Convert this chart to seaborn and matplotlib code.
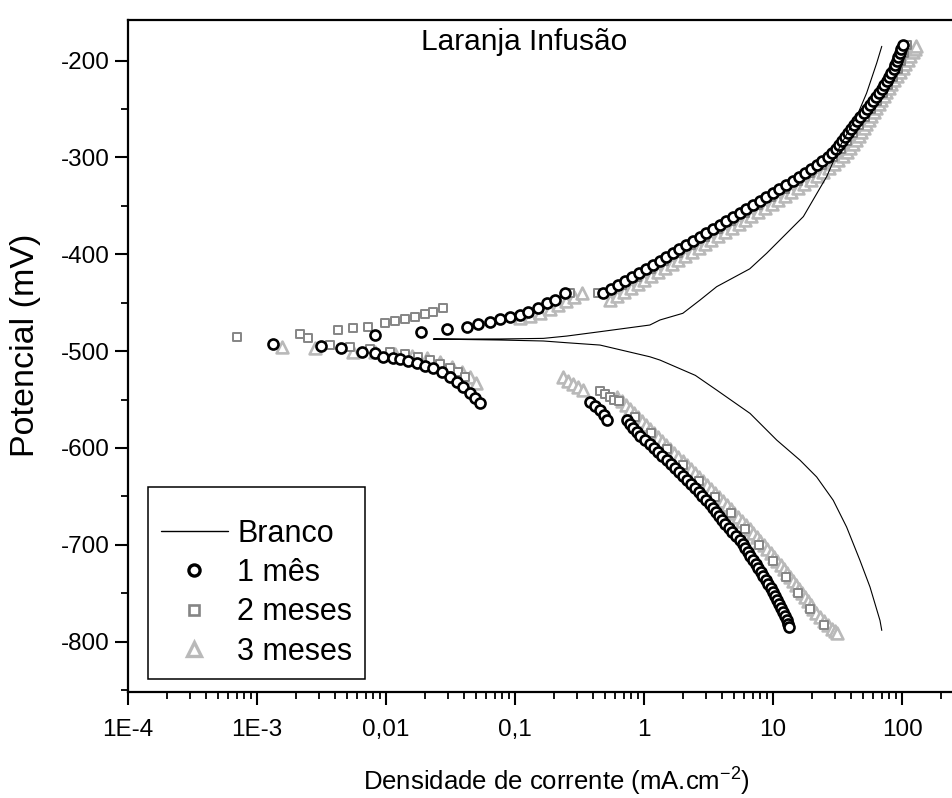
import matplotlib
matplotlib.use("Agg")
import matplotlib.pyplot as plt
from matplotlib.lines import Line2D
from matplotlib.ticker import LogLocator, NullFormatter, MultipleLocator, FixedLocator
import seaborn as sns

sns.set_theme(style="ticks")
plt.rcParams["font.family"] = ["Liberation Sans", "DejaVu Sans"]
plt.rcParams["mathtext.fontset"] = "custom"
plt.rcParams["mathtext.rm"] = "Liberation Sans"
plt.rcParams["mathtext.it"] = "Liberation Sans:italic"
plt.rcParams["text.color"] = "black"
plt.rcParams["axes.labelcolor"] = "black"

# ---------------------------------------------------------------
# Polarization data: current density (mA/cm2) and potential (mV)
# ---------------------------------------------------------------

# Branco (reference curve), traced from the cathodic end to the anodic end
branco_i = [69.7, 67.5, 56.5, 47.2, 37.2, 29.3, 21.8, 16.2, 10.7, 6.64, 3.66, 2.5,
            1.33, 1.11, 0.456, 0.252, 0.166, 0.0766, 0.0233,
            0.0766, 0.166, 0.252, 0.456, 1.11, 1.33, 2.0, 2.72, 3.66, 6.6, 8.93,
            17.2, 26.1, 33.0, 44.6, 53.2, 63.7, 69.7]
branco_e = [-788.4, -778.1, -743.6, -716.0, -681.6, -654.0, -629.9, -612.6, -591.9,
            -564.3, -540.2, -525.0, -509.2, -505.8, -493.7, -491.3, -489.5, -488.5,
            -487.5,
            -487.4, -486.8, -484.4, -479.9, -473.0, -467.8, -460.9, -447.2, -433.4,
            -415.0, -398.9, -361.0, -319.6, -288.6, -257.6, -233.4, -202.4, -185.2]

# 1 mes: low-current cathodic, low-current anodic, middle cluster,
# main cathodic branch, main anodic branch
mes1_i = [1.336e-3, 3.12e-3, 4.46e-3, 6.49e-3, 8.22e-3, 9.53e-3, 0.0114, 0.01285,
          0.0149, 0.0173, 0.02006, 0.02326, 0.02702, 0.03135, 0.03532, 0.03974,
          0.04477, 0.04898, 0.05353,
          8.22e-3, 0.01858, 0.0295, 0.0423, 0.052, 0.064, 0.0765, 0.0914, 0.1093,
          0.1268, 0.1517, 0.1762, 0.2042, 0.2443,
          0.381, 0.417, 0.456, 0.490, 0.517,
          0.735, 0.777, 0.822, 0.875, 0.931, 1.023, 1.123, 1.201, 1.284, 1.388,
          1.500, 1.616, 1.740, 1.868, 2.006, 2.154, 2.313, 2.484, 2.667, 2.840,
          3.025, 3.220, 3.428, 3.614, 3.811, 4.022, 4.244, 4.538, 4.853, 5.189,
          5.549, 5.827, 6.119, 6.373, 6.637, 6.969, 7.318, 7.683, 8.067, 8.437,
          8.824, 9.187, 9.565, 9.960, 10.37, 10.74, 11.13, 11.54, 11.96, 12.34,
          12.74, 13.05, 13.37,
          0.4836, 0.5509, 0.6276, 0.7111, 0.8057, 0.9136, 1.036, 1.169, 1.319,
          1.485, 1.672, 1.883, 2.121, 2.390, 2.693, 3.035, 3.421, 3.852, 4.337,
          4.888, 5.510, 6.198, 6.973, 7.859, 8.857, 9.973, 11.23, 12.65, 14.24,
          15.92, 17.80, 19.71, 21.82, 24.16, 26.74, 28.79, 31.00, 32.63, 34.34,
          36.12, 38.00, 40.17, 42.46, 44.95, 47.59, 50.39, 53.36, 56.48, 59.79,
          62.98, 66.33, 69.36, 72.53, 75.84, 79.31, 82.70, 86.24, 88.58, 90.98,
          93.45, 95.98, 98.60, 101.3]
mes1_e = [-492.7, -494.7, -497.1, -500.6, -502.3, -505.8, -507.4, -508.2, -509.7,
          -511.8, -514.9, -517.8, -521.3, -526.5, -531.6, -536.8, -543.6, -548.8,
          -553.3,
          -483.3, -479.9, -477.5, -474.8, -472.3, -469.6, -467.1, -465.0, -462.7,
          -459.3, -455.7, -450.6, -447.2, -440.2,
          -552.6, -556.8, -560.9, -566.1, -571.3,
          -571.3, -575.4, -579.5, -583.7, -587.8, -592.0, -596.1, -600.2, -604.3,
          -608.5, -612.6, -616.8, -620.9, -625.1, -629.2, -633.3, -637.4, -641.6,
          -645.7, -649.9, -654.0, -658.1, -662.2, -666.4, -670.5, -674.7, -678.8,
          -683.0, -687.1, -691.2, -695.3, -699.5, -703.6, -707.8, -711.9, -716.0,
          -720.1, -724.3, -728.4, -732.6, -736.7, -740.9, -745.0, -749.1, -753.2,
          -757.4, -761.5, -765.7, -769.8, -773.9, -778.0, -781.7, -785.3,
          -439.9, -435.8, -431.6, -427.5, -423.4, -419.3, -415.1, -411.0, -406.8,
          -402.7, -398.6, -394.5, -390.3, -386.2, -382.0, -377.9, -373.8, -369.7,
          -365.5, -361.4, -357.2, -353.1, -348.9, -344.8, -340.6, -336.5, -332.4,
          -328.3, -324.1, -320.0, -315.8, -311.7, -307.6, -303.5, -299.3, -295.2,
          -291.0, -286.9, -282.7, -278.6, -274.5, -270.4, -266.2, -262.1, -257.9,
          -253.8, -249.6, -245.5, -241.4, -237.3, -233.1, -229.0, -224.8, -220.7,
          -216.5, -212.4, -208.3, -204.2, -200.0, -195.9, -191.7, -187.6, -183.5]

# 2 meses
mes2_i = [6.96e-4, 2.15e-3, 2.50e-3, 4.27e-3, 5.58e-3, 7.29e-3, 9.82e-3, 0.01175,
          0.01403, 0.01679, 0.02006, 0.02326, 0.02782,
          3.68e-3, 5.26e-3, 7.52e-3, 0.01074, 0.01403, 0.0177, 0.02193, 0.02622,
          0.03135, 0.03614, 0.04094,
          0.267, 0.456, 0.4986, 0.545, 0.5855,
          0.6397, 0.8514, 1.133, 1.508, 2.005, 2.669, 3.551, 4.725, 6.067, 7.788,
          10.0, 12.61, 15.62, 19.36, 24.85,
          0.440, 0.675, 0.882, 1.133, 1.429, 1.835, 2.314, 2.971, 3.746, 4.725,
          6.067, 7.650, 9.650, 12.39, 15.62, 19.36, 23.98, 29.18, 33.66, 37.47,
          41.71, 46.42, 51.67, 57.51, 64.01, 71.25, 77.90, 85.17, 93.11, 98.22,
          103.6, 109.3]
mes2_e = [-485.1, -482.6, -486.8, -478.2, -476.4, -474.8, -471.2, -468.9, -467.1,
          -465.0, -461.6, -459.3, -455.7,
          -493.7, -495.7, -497.8, -500.9, -503.0, -506.1, -509.2, -513.4, -517.5,
          -521.6, -526.8,
          -439.9, -541.3, -544.4, -547.5, -550.6,
          -551.6, -568.2, -584.7, -601.2, -617.8, -634.3, -650.9, -667.4, -684.0,
          -700.5, -717.1, -733.6, -750.2, -766.7, -783.2,
          -439.9, -431.6, -423.4, -415.1, -406.8, -398.6, -390.3, -382.0, -373.8,
          -365.5, -357.2, -348.9, -340.6, -332.4, -324.1, -315.8, -307.6, -299.3,
          -291.0, -282.7, -274.5, -266.2, -257.9, -249.6, -241.4, -233.1, -224.8,
          -216.5, -208.3, -200.0, -191.7, -183.5]

# 3 meses
mes3_i = [1.55e-3, 2.82e-3, 5.58e-3, 8.22e-3, 0.01175, 0.0159, 0.0208, 0.02622,
          0.0325, 0.0388, 0.0448, 0.0499,
          0.1093, 0.1306, 0.1563, 0.1868, 0.2154, 0.2483, 0.2864, 0.3305,
          0.2356, 0.2575, 0.2816, 0.3079, 0.3366,
          0.6176, 0.6693, 0.7254, 0.7791, 0.8367, 0.8986, 0.9650, 1.0364, 1.113,
          1.1955, 1.284, 1.379, 1.481, 1.5904, 1.708, 1.8505, 2.005, 2.154, 2.314,
          2.4852, 2.669, 2.8662, 3.078, 3.306, 3.551, 3.8138, 4.096, 4.3993, 4.725,
          5.0297, 5.354, 5.7503, 6.176, 6.5742, 6.998, 7.4499, 7.931, 8.4416,
          8.985, 9.564, 10.18, 10.834, 11.53, 12.168, 12.84, 13.546, 14.29,
          15.078, 15.91, 16.781, 17.70, 18.673, 19.70, 20.60, 21.54, 23.136,
          24.85, 26.692, 28.67, 29.975, 31.34,
          0.545, 0.6177, 0.700, 0.7928, 0.898, 1.0087, 1.133, 1.2839, 1.455,
          1.634, 1.835, 2.0793, 2.356, 2.6457, 2.971, 3.3361, 3.746, 4.2452,
          4.811, 5.4026, 6.067, 6.8127, 7.650, 8.6682, 9.822, 11.031, 12.39,
          13.912, 15.62, 17.542, 19.70, 21.933, 24.42, 26.936, 29.71, 32.191,
          34.88, 37.137, 39.54, 41.71, 44.00, 46.009, 48.11, 50.305, 52.60, 55.0,
          57.51, 60.131, 62.87, 65.745, 68.75, 71.884, 75.16, 78.587, 82.17,
          86.691, 91.46, 96.491, 101.8, 106.44, 111.3, 116.38, 121.7, 125.0, 128.4]
mes3_e = [-495.4, -497.1, -500.6, -500.9, -503.0, -505.1, -507.1, -511.3, -516.4,
          -521.6, -526.8, -533.0,
          -465.8, -463.7, -460.6, -456.5, -452.3, -448.2, -444.1, -439.9,
          -526.8, -530.9, -534.0, -537.1, -540.2,
          -547.5, -551.6, -555.7, -559.9, -564.0, -568.2, -572.3, -576.5, -580.6,
          -584.7, -588.8, -593.0, -597.1, -601.3, -605.4, -609.6, -613.7, -617.8,
          -621.9, -626.1, -630.2, -634.4, -638.5, -642.6, -646.7, -650.9, -655.0,
          -659.2, -663.3, -667.5, -671.6, -675.7, -679.8, -684.0, -688.1, -692.3,
          -696.4, -700.6, -704.7, -708.8, -712.9, -717.1, -721.2, -725.4, -729.5,
          -733.6, -737.7, -741.9, -746.0, -750.2, -754.3, -758.5, -762.6, -766.7,
          -770.8, -775.0, -779.1, -783.3, -787.4, -789.5, -791.5,
          -447.2, -443.1, -438.9, -434.8, -430.6, -426.5, -422.3, -418.2, -414.1,
          -410.0, -405.8, -401.7, -397.5, -393.4, -389.3, -385.2, -381.0, -376.9,
          -372.7, -368.6, -364.4, -360.3, -356.2, -352.1, -347.9, -343.8, -339.6,
          -335.5, -331.3, -327.2, -323.1, -319.0, -314.8, -310.7, -306.5, -302.4,
          -298.2, -294.1, -290.0, -285.9, -281.7, -277.6, -273.4, -269.3, -265.1,
          -261.0, -256.9, -252.8, -248.6, -244.5, -240.3, -236.2, -232.1, -228.0,
          -223.8, -219.7, -215.5, -211.4, -207.2, -203.1, -199.0, -194.9, -190.7,
          -187.6, -184.5]

x_ticks = [1e-4, 1e-3, 1e-2, 1e-1, 1, 10, 100, 1000]
x_tick_labels = ["1E-4", "1E-3", "0,01", "0,1", "1", "10", "100", ""]
y_ticks = [-800, -700, -600, -500, -400, -300, -200]
y_tick_labels = ["-800", "-700", "-600", "-500", "-400", "-300", "-200"]

# ---------------------------------------------------------------
W, H = 952, 798
fig = plt.figure(figsize=(W / 100, H / 100), dpi=100)
fig.patch.set_facecolor("white")
# the plot area runs past the right border of the canvas
ax = fig.add_axes([128 / W, (H - 692) / H, (1031 - 128) / W, (692 - 20) / H])
ax.set_facecolor("white")

c1, c2, c3 = "black", "#858585", "#b9b9b9"

def scatter(xs, ys, marker, size, edge, lw, z):
    sns.scatterplot(x=xs, y=ys, marker=marker, s=size, ax=ax, legend=False, zorder=z)
    coll = ax.collections[-1]
    coll.set_facecolor("white")
    coll.set_edgecolor(edge)
    coll.set_linewidth(lw)

scatter(mes3_i, mes3_e, "^", 72, c3, 1.9, 2)
scatter(mes2_i, mes2_e, "s", 40, c2, 1.4, 3)
scatter(mes1_i, mes1_e, "o", 52, c1, 1.9, 4)
sns.lineplot(x=branco_i, y=branco_e, sort=False, estimator=None, color="black",
             lw=0.8, ax=ax, zorder=5)

ax.set_xscale("log")
ax.set_xlim(1e-4, 1e3)
ax.set_ylim(-852, -158)

ax.xaxis.set_major_locator(FixedLocator(x_ticks))
ax.set_xticklabels(x_tick_labels)
ax.xaxis.set_minor_locator(LogLocator(base=10, subs=[2, 3, 4, 5, 6, 7, 8, 9], numticks=20))
ax.xaxis.set_minor_formatter(NullFormatter())
ax.set_yticks(y_ticks)
ax.set_yticklabels(y_tick_labels)
ax.yaxis.set_minor_locator(MultipleLocator(50))

ax.tick_params(axis="both", which="major", direction="out", length=9.5, width=1.5,
               labelsize=17.5, colors="black", pad=4)
ax.tick_params(axis="x", which="major", pad=10)
ax.tick_params(axis="both", which="minor", direction="out", length=5, width=1.3,
               colors="black")
ax.tick_params(top=False, right=False, which="both")
for side in ["left", "bottom", "top", "right"]:
    ax.spines[side].set_color("black")
    ax.spines[side].set_linewidth(1.6)
ax.grid(False)

ax.set_xlabel("Densidade de corrente (mA.cm$^{\\mathregular{-2}}$)", fontsize=18.5,
              color="black")
ax.xaxis.set_label_coords((556 - 128) / (1031 - 128), -(782 - 692) / (692 - 20))
ax.xaxis.label.set_va("center")
ax.set_ylabel("Potencial (mV)", fontsize=24.5, color="black")
ax.yaxis.set_label_coords((26 - 128) / (1031 - 128), (692 - 345) / (692 - 20))
ax.yaxis.label.set_va("center")

fig.text(524 / W, 1 - 42 / H, "Laranja Infusão", ha="center", va="center",
         fontsize=21.5, color="black")

handles = [
    Line2D([], [], color="black", lw=1.0),
    Line2D([], [], marker="o", ls="none", mfc="white", mec=c1, ms=8, mew=2.4),
    Line2D([], [], marker="s", ls="none", mfc="white", mec=c2, ms=7, mew=1.9),
    Line2D([], [], marker="^", ls="none", mfc="white", mec=c3, ms=10, mew=2.4),
]
labels = ["Branco", "1 mês", "2 meses", "3 meses"]
leg = ax.legend(handles, labels, loc="upper left",
                bbox_to_anchor=(148 / W, 1 - 487 / H), bbox_transform=fig.transFigure,
                borderaxespad=0, fontsize=22, frameon=True, fancybox=False,
                framealpha=1, edgecolor="black", borderpad=0.42, handlelength=2.2,
                handletextpad=0.3, labelspacing=0.3, title=" ", title_fontsize=7)
leg.get_frame().set_linewidth(1.1)
for txt in leg.get_texts():
    txt.set_color("black")

fig.savefig("out.png", dpi=100, facecolor="white")
